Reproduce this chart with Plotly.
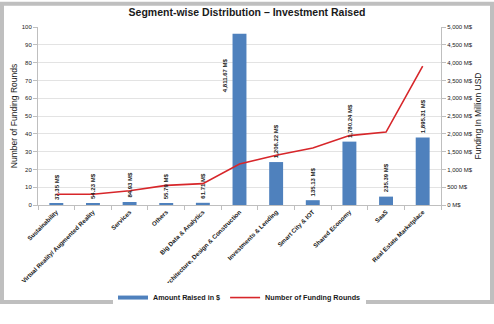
import plotly.graph_objects as go

categories = ["Sustainability", "Virtual Reality/ Augmented Reality", "Services", "Others",
              "Big Data & Analytics", "Architecture, Design & Construction", "Investments & Lending",
              "Smart City & IOT", "Shared Economy", "SaaS", "Real Estate Marketplace"]
amount_raised = [37.35, 54.23, 84.93, 55.79, 61.71, 4811.67, 1206.22, 135.13, 1780.24, 235.39, 1895.31]
funding_rounds = [6, 6, 8, 11, 12, 23, 28, 32, 39, 41, 78]
left_ticks = list(range(0, 101, 10))
right_ticks = list(range(0, 5001, 500))

FONT = "Liberation Sans, Arial, sans-serif"
BLUE = "#4f81bd"
RED = "#d7262a"

fig = go.Figure()
fig.add_trace(go.Bar(
    x=categories, y=amount_raised, name="Amount Raised in $",
    marker=dict(color=BLUE, line=dict(width=0)), yaxis="y", width=0.38, showlegend=False,
))
fig.add_trace(go.Scatter(
    x=[None], y=[None], name="<b>Amount Raised in $</b>", mode="lines",
    line=dict(color=BLUE, width=4), yaxis="y", hoverinfo="skip",
))
fig.add_trace(go.Scatter(
    x=categories, y=funding_rounds, name="<b>Number of Funding Rounds</b>",
    mode="lines", line=dict(color=RED, width=1.6), yaxis="y2",
))

annotations = []
max_v = max(amount_raised)
for c, v in zip(categories, amount_raised):
    if v == max_v:
        annotations.append(dict(x=c, y=v, xref="x", yref="y", text=f"<b>{v:,.2f} M$</b>",
                                textangle=-90, showarrow=False, yanchor="top", xanchor="center",
                                xshift=-15, yshift=-23, font=dict(size=6, family=FONT, color="#1a1a1a")))
    else:
        annotations.append(dict(x=c, y=v, xref="x", yref="y", text=f"<b>{v:,.2f} M$</b>",
                                textangle=-90, showarrow=False, yanchor="bottom", xanchor="center",
                                yshift=2, font=dict(size=6, family=FONT, color="#1a1a1a")))

fig.update_layout(
    width=494, height=324,
    margin=dict(l=38, r=53, t=27, b=106),
    paper_bgcolor="white", plot_bgcolor="white",
    font=dict(family=FONT, color="#1a1a1a"),
    title=dict(text="<b>Segment-wise Distribution – Investment Raised</b>", x=0.5, xanchor="center",
               y=0.962, yanchor="middle", font=dict(size=10.5, family=FONT, color="#1a1a1a")),
    xaxis=dict(tickangle=-45, tickfont=dict(size=6.2, family=FONT), showgrid=False,
               tickvals=categories, ticktext=[f"<b>{c}</b>" for c in categories],
               showline=True, linecolor="#bfbfbf", linewidth=1, ticks="outside", ticklen=4,
               tickcolor="#bfbfbf", tickson="boundaries", automargin=False),
    yaxis=dict(side="right", range=[0, 5000], tickvals=right_ticks,
               ticktext=[f"{t:,} M$" for t in right_ticks],
               tickfont=dict(size=6, family=FONT), showgrid=True, gridcolor="#e3e3e3",
               showline=True, linecolor="#bfbfbf", ticks="outside", ticklen=4, tickcolor="#bfbfbf",
               title=dict(text="Funding In Million USD", font=dict(size=8.5, family=FONT), standoff=0),
               zeroline=False, automargin=False),
    yaxis2=dict(side="left", overlaying="y", range=[0, 100], tickvals=left_ticks,
                tickfont=dict(size=6, family=FONT), showgrid=False,
                showline=True, linecolor="#bfbfbf", ticks="outside", ticklen=4, tickcolor="#bfbfbf",
                title=dict(text="Number of Funding Rounds", font=dict(size=8.5, family=FONT), standoff=2),
                zeroline=False, automargin=False),
    legend=dict(orientation="h", x=0.5, xanchor="center", y=-0.52, yanchor="middle",
                font=dict(size=7.2, family=FONT), traceorder="normal", itemwidth=30,
                tracegroupgap=0),
    annotations=annotations,
    shapes=[dict(type="rect", xref="paper", yref="paper",
                 x0=-38/403 + 2/403, x1=1 + 53/403 - 2/403,
                 y0=-106/191 + 2/191, y1=1 + 27/191 - 2/191,
                 line=dict(color="#bfbfbf", width=4), layer="below")],
)

fig.write_html("out.html")
